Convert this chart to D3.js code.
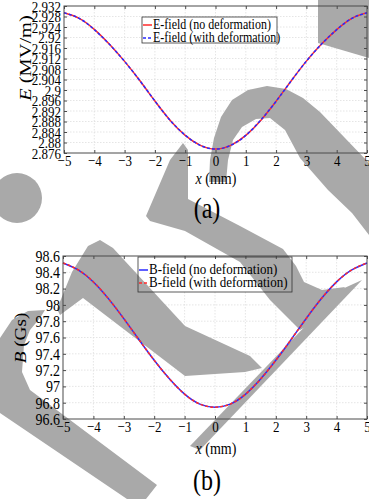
<!DOCTYPE html>
<html lang="en">
<head>
<meta charset="UTF-8">
<title>E-field and B-field along x</title>
<script src="https://d3js.org/d3.v7.min.js"></script>
<style>
  body { margin: 0; background: #fff; overflow: hidden; }
  svg { display: block; }
  text { font-family: "Liberation Serif", "Times New Roman", serif; fill: #000; }
  .grid line { stroke: #dedede; stroke-width: 0.8; stroke-dasharray: 1.5,1.5; }
  .ax path, .ax line { stroke: #4a4a4a; stroke-width: 1; }
</style>
</head>
<body>
<svg id="chart" width="369" height="499"></svg>
<script>
// ---- data ----
const xs = [-5, -4.5, -4, -3.5, -3, -2.5, -2, -1.5, -1, -0.5, 0, 0.5, 1, 1.5, 2, 2.5, 3, 3.5, 4, 4.5, 5];
const eNoDef   = [2.9294, 2.9273, 2.9231, 2.9174, 2.9109, 2.9036, 2.8958, 2.8885, 2.8827, 2.8789, 2.8775, 2.8789, 2.8827, 2.8885, 2.8957, 2.9035, 2.9110, 2.9175, 2.9230, 2.9273, 2.9294];
const eWithDef = [2.9294, 2.9273, 2.9230, 2.9174, 2.9109, 2.9036, 2.8958, 2.8885, 2.8828, 2.8789, 2.8775, 2.8789, 2.8827, 2.8886, 2.8957, 2.9035, 2.9110, 2.9175, 2.9230, 2.9273, 2.9294];
const bNoDef   = [98.515, 98.430, 98.282, 98.074, 97.831, 97.573, 97.321, 97.093, 96.905, 96.783, 96.745, 96.783, 96.903, 97.090, 97.320, 97.573, 97.833, 98.078, 98.283, 98.430, 98.515];
const bWithDef = [98.515, 98.430, 98.282, 98.074, 97.831, 97.573, 97.321, 97.093, 96.905, 96.783, 96.745, 96.783, 96.903, 97.090, 97.320, 97.573, 97.833, 98.078, 98.283, 98.430, 98.515];

const xTicks = [-5, -4, -3, -2, -1, 0, 1, 2, 3, 4, 5];
const eTicks = [2.876, 2.88, 2.884, 2.888, 2.892, 2.896, 2.9, 2.904, 2.908, 2.912, 2.916, 2.92, 2.924, 2.928, 2.932];
const bTicks = [96.6, 96.8, 97, 97.2, 97.4, 97.6, 97.8, 98, 98.2, 98.4, 98.6];

const eLegend = ["E-field (no deformation)", "E-field (with deformation)"];
const bLegend = ["B-field (no deformation)", "B-field (with deformation)"];

// grey watermark shapes lying over the figure (decoration, page pixels)
const watermarkPaths = [
  "M318,0 L369,0 L369,58 L318,43 Z",
  "M209,182 L210,160 L214,138 L221,117 L232,100 L248,90 L267,86 L286,89 L303,98 L320,112 L369,163 L369,235 L352,213 L328,190 L300,158 L285,130 L270,118 L256,119 L242,127 L233,140 L228,160 L226,182 Z",
  "M183,143 L188,150 L188,199 L240,226 L283,249 L296,266 L304,282 L322,290 L345,287 L322,318 L300,330 L270,300 L240,262 L185,231 L150,221 L146,216 L170,160 Z",
  "M340,290 L362,280 L200,450 L190,446 Z",
  "M57,309 L72,272 L88,246 L100,240 L113,248 L185,326 L250,356 L262,368 L245,372 L185,376 L83,298 L60,315 Z",
  "M0,338 L12,320 L28,311 L45,310 L40,318 L30,330 L24,345 L22,372 L30,390 L157,485 L146,499 L127,499 L0,413 Z"
];
const watermarkCircle = { cx: 17, cy: 198, r: 25 };

const SY = 1.2;                 // the figure's text is stretched vertically
const RED = "#ff2a2a", BLUE = "#2a2aff";

const svg = d3.select("#chart");
svg.append("rect").attr("width", 369).attr("height", 499).attr("fill", "#fff");

const gridLayer = svg.append("g");
const legendBoxLayer = svg.append("g");
const wm = svg.append("g").attr("fill", "#a9a9a9");
const topLayer = svg.append("g");

function stretch(sel) {
  sel.each(function () {
    const t = d3.select(this);
    const x = +t.attr("x") || 0, y = +t.attr("y") || 0;
    t.attr("transform", `translate(${x},${y}) scale(1,${SY})`).attr("x", 0).attr("y", 0);
  });
}

function panel(cfg) {
  const x = d3.scaleLinear().domain([-5, 5]).range([cfg.left, cfg.right]);
  const y = d3.scaleLinear().domain(cfg.ydom).range([cfg.bottom, cfg.top]);

  // grid
  const g = gridLayer.append("g").attr("class", "grid");
  g.selectAll(".gx").data(xTicks.slice(1, -1)).join("line")
    .attr("x1", d => x(d)).attr("x2", d => x(d)).attr("y1", cfg.top).attr("y2", cfg.bottom);
  g.selectAll(".gy").data(cfg.yticks.slice(1, -1)).join("line")
    .attr("y1", d => y(d)).attr("y2", d => y(d)).attr("x1", cfg.left).attr("x2", cfg.right);

  // curves
  const line = d3.line().x((d, i) => x(xs[i])).y(d => y(d)).curve(d3.curveNatural);
  cfg.series.forEach(s => {
    topLayer.append("path").datum(s.values)
      .attr("d", line).attr("fill", "none")
      .attr("stroke", s.color).attr("stroke-width", 1.5)
      .attr("stroke-dasharray", s.dash || null);
  });

  // axes, ticks inward on all four sides
  const ax = topLayer.append("g").attr("class", "ax");
  const bottomAx = ax.append("g").attr("transform", `translate(0,${cfg.bottom})`)
    .call(d3.axisBottom(x).tickValues(xTicks).tickSizeInner(-3).tickSizeOuter(0).tickPadding(0));
  bottomAx.selectAll("text").attr("font-size", cfg.xFont).attr("dy", null).attr("y", 15 / SY).call(stretch);
  const leftAx = ax.append("g").attr("transform", `translate(${cfg.left},0)`)
    .call(d3.axisLeft(y).tickValues(cfg.yticks).tickSizeInner(-3).tickSizeOuter(0).tickPadding(3)
      .tickFormat(cfg.fmt));
  leftAx.selectAll("text").attr("font-size", cfg.yFont).call(stretch);
  ax.append("g").attr("transform", `translate(0,${cfg.top})`)
    .call(d3.axisTop(x).tickValues(xTicks).tickSizeInner(-3).tickSizeOuter(0).tickFormat(""));
  ax.append("g").attr("transform", `translate(${cfg.right},0)`)
    .call(d3.axisRight(y).tickValues(cfg.yticks).tickSizeInner(-3).tickSizeOuter(0).tickFormat(""));
  ax.selectAll(".domain").remove();
  ax.append("rect").attr("x", cfg.left).attr("y", cfg.top)
    .attr("width", cfg.right - cfg.left).attr("height", cfg.bottom - cfg.top)
    .attr("fill", "none").attr("stroke", "#4a4a4a").attr("stroke-width", 1);

  // legend
  const L = cfg.legend;
  legendBoxLayer.append("rect").attr("x", L.x).attr("y", L.y).attr("width", L.w).attr("height", L.h)
    .attr("fill", "#fff");
  topLayer.append("rect").attr("x", L.x).attr("y", L.y).attr("width", L.w).attr("height", L.h)
    .attr("fill", "none").attr("stroke", "#333").attr("stroke-width", 0.8);
  cfg.series.forEach((s, i) => {
    const cy = L.y + L.row0 + i * L.step;
    topLayer.append("line").attr("x1", L.x + 1).attr("x2", L.x + 10).attr("y1", cy).attr("y2", cy)
      .attr("stroke", s.color).attr("stroke-width", 1.5).attr("stroke-dasharray", s.dash || null);
    topLayer.append("text").attr("x", L.x + 11).attr("y", cy + 4)
      .attr("font-size", L.font).text(cfg.labels[i]).call(stretch);
  });

  // axis titles
  const xl = topLayer.append("text").attr("x", cfg.xlab[0]).attr("y", cfg.xlab[1])
    .attr("font-size", cfg.xlabFont).attr("text-anchor", "middle");
  xl.append("tspan").attr("font-style", "italic").text("x");
  xl.append("tspan").text(" (mm)");
  xl.call(stretch);

  const yl = topLayer.append("text").attr("font-size", cfg.ylabFont).attr("text-anchor", "middle")
    .attr("transform", `translate(${cfg.ylab[0]},${cfg.ylab[1]}) scale(1,${SY}) rotate(-90)`);
  yl.append("tspan").attr("font-style", "italic").text(cfg.ysym);
  yl.append("tspan").text(cfg.yunit);

  topLayer.append("text").attr("x", cfg.tag[0]).attr("y", cfg.tag[1]).attr("font-size", 24)
    .attr("text-anchor", "middle").text(cfg.tagText).call(stretch);
}

panel({
  left: 64, right: 367, top: 6, bottom: 153,
  ydom: [2.876, 2.932], yticks: eTicks, fmt: d => String(+d.toFixed(3)),
  xFont: 13, yFont: 13,
  series: [
    { values: eNoDef, color: RED },
    { values: eWithDef, color: BLUE, dash: "3,2" }
  ],
  labels: eLegend,
  legend: { x: 142, y: 17, w: 135, h: 26, row0: 8, step: 13, font: 12 },
  xlab: [216, 184], xlabFont: 14,
  ylab: [31, 58], ylabFont: 17, ysym: "E", yunit: " (MV/m)",
  tag: [207, 218], tagText: "(a)"
});

panel({
  left: 63, right: 367, top: 256, bottom: 419,
  ydom: [96.6, 98.6], yticks: bTicks, fmt: d => String(+d.toFixed(1)),
  xFont: 13, yFont: 14,
  series: [
    { values: bNoDef, color: BLUE },
    { values: bWithDef, color: RED, dash: "3,2" }
  ],
  labels: bLegend,
  legend: { x: 138, y: 257, w: 154, h: 35, row0: 13, step: 13, font: 13 },
  xlab: [216, 454], xlabFont: 14,
  ylab: [26, 338], ylabFont: 16, ysym: "B", yunit: " (Gs)",
  tag: [207, 490], tagText: "(b)"
});

// watermark
wm.selectAll("path").data(watermarkPaths).join("path").attr("d", d => d);
wm.append("circle").attr("cx", watermarkCircle.cx).attr("cy", watermarkCircle.cy).attr("r", watermarkCircle.r);
</script>
</body>
</html>
